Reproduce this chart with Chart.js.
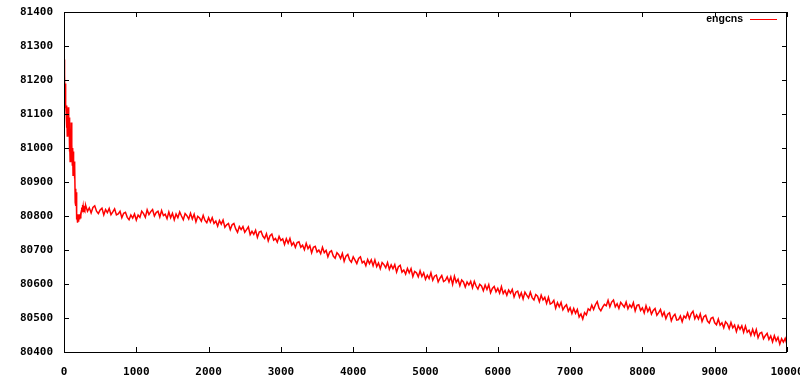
<!DOCTYPE html>
<html>
<head>
<meta charset="utf-8">
<script src="https://cdn.jsdelivr.net/npm/chart.js@4.4.1/dist/chart.umd.min.js"></script>
<style>
  html, body { margin: 0; padding: 0; background: #fff; overflow: hidden; }
  canvas { display: block; }
</style>
</head>
<body>
<canvas id="chart" width="810" height="375"></canvas>
<script>
// sample steps: early part every 5, rest every 25
const earlyStep = 5;
const mainStart = 300;
const mainStep = 25;

const earlyValues = [
  81260, 81140, 81215, 81120, 81190, 81130, 81105, 81060, 81125, 81035,
  81110, 81050, 81120, 81040, 81090, 80990, 81030, 80960, 81040, 80970,
  81075, 80980, 81010, 80950, 81000, 80920, 80990, 80930, 80960, 80910,
  80950, 80840, 80880, 80830, 80870, 80790, 80800, 80780, 80805, 80785,
  80800, 80788, 80805, 80790, 80800, 80795, 80810, 80800, 80815, 80825,
  80818, 80832, 80815, 80828, 80812, 80830, 80815, 80827, 80813, 80829
];

const mainValues = [
  80831, 80814, 80824, 80809, 80825, 80830, 80814, 80807, 80818, 80823,
  80803, 80819, 80810, 80822, 80804, 80812, 80821, 80803, 80806, 80814,
  80795, 80808, 80811, 80796, 80789, 80803, 80794, 80806, 80788, 80803,
  80796, 80814, 80807, 80796, 80818, 80804, 80813, 80819, 80800, 80810,
  80814, 80797, 80816, 80801, 80805, 80792, 80812, 80795, 80808, 80789,
  80806, 80795, 80812, 80800, 80789, 80807, 80801, 80791, 80808, 80791,
  80805, 80783, 80799, 80794, 80785, 80802, 80787, 80780, 80795, 80782,
  80795, 80778, 80785, 80770, 80787, 80776, 80788, 80767, 80774, 80778,
  80760, 80774, 80778, 80762, 80752, 80769, 80760, 80769, 80752, 80760,
  80768, 80745, 80755, 80746, 80758, 80737, 80753, 80755, 80741, 80734,
  80748, 80727, 80742, 80747, 80729, 80734, 80723, 80740, 80728, 80733,
  80716, 80733, 80720, 80734, 80714, 80722, 80708, 80722, 80724, 80708,
  80714, 80701, 80720, 80704, 80713, 80692, 80708, 80711, 80694, 80700,
  80689, 80708, 80692, 80699, 80680, 80694, 80698, 80682, 80676, 80692,
  80686, 80675, 80690, 80667, 80682, 80687, 80671, 80664, 80680, 80670,
  80660, 80675, 80680, 80662, 80667, 80654, 80672, 80660, 80671, 80654,
  80671, 80651, 80662, 80645, 80663, 80657, 80648, 80663, 80643, 80656,
  80645, 80657, 80635, 80651, 80655, 80635, 80641, 80629, 80646, 80633,
  80645, 80622, 80637, 80633, 80621, 80639, 80622, 80633, 80614, 80626,
  80616, 80633, 80611, 80623, 80626, 80606, 80617, 80625, 80607, 80611,
  80621, 80606, 80621, 80599, 80623, 80605, 80614, 80595, 80612, 80606,
  80591, 80606, 80597, 80608, 80589, 80608, 80594, 80585, 80599, 80594,
  80580, 80597, 80584, 80598, 80574, 80587, 80593, 80577, 80587, 80573,
  80592, 80572, 80581, 80567, 80582, 80573, 80584, 80562, 80576, 80579,
  80561, 80574, 80556, 80576, 80567, 80559, 80576, 80560, 80553, 80569,
  80564, 80548, 80567, 80553, 80561, 80543, 80561, 80541, 80544, 80552,
  80529, 80545, 80533, 80546, 80524, 80533, 80539, 80520, 80530, 80513,
  80528, 80514, 80525, 80503, 80512, 80497, 80516, 80509, 80527, 80522,
  80538, 80525, 80539, 80548, 80529, 80521, 80532, 80540, 80536, 80552,
  80533, 80547, 80553, 80533, 80542, 80528, 80546, 80539, 80532, 80547,
  80527, 80539, 80531, 80545, 80521, 80537, 80539, 80522, 80530, 80515,
  80536, 80519, 80530, 80511, 80522, 80528, 80508, 80516, 80525, 80506,
  80517, 80498, 80511, 80515, 80492, 80505, 80511, 80494, 80495, 80506,
  80489, 80506, 80500, 80515, 80498, 80513, 80520, 80498, 80509, 80497,
  80512, 80490, 80504, 80508, 80491, 80485, 80499, 80502, 80486, 80480,
  80497, 80479, 80486, 80471, 80489, 80483, 80469, 80487, 80471, 80479,
  80460, 80478, 80467, 80477, 80458, 80476, 80458, 80464, 80449, 80467,
  80450, 80466, 80442, 80455, 80458, 80439, 80448, 80455, 80437, 80447,
  80430, 80448, 80433, 80443, 80423, 80439, 80429, 80440, 80422
];

const seriesLabel = 'engcns';
const xMin = 0, xMax = 10000, xStep = 1000;
const yMin = 80400, yMax = 81400, yStep = 100;

const points = [];
earlyValues.forEach((v, i) => points.push({ x: i * earlyStep, y: v }));
mainValues.forEach((v, i) => points.push({ x: mainStart + i * mainStep, y: v }));

const tickFont = { family: 'DejaVu Sans Mono', size: 11, weight: 'bold' };

// gnuplot style frame, inward ticks and key
const frame = {
  id: 'frame',
  afterDraw(chart) {
    const { ctx, chartArea: a, scales: { x, y } } = chart;
    ctx.save();
    ctx.strokeStyle = '#000';
    ctx.lineWidth = 1;
    ctx.strokeRect(a.left + 0.5, a.top + 0.5, a.right - a.left - 1, a.bottom - a.top);
    ctx.beginPath();
    x.ticks.forEach(t => {
      const px = Math.round(x.getPixelForValue(t.value)) + 0.5;
      ctx.moveTo(px, a.bottom); ctx.lineTo(px, a.bottom - 5);
      ctx.moveTo(px, a.top); ctx.lineTo(px, a.top + 5);
    });
    y.ticks.forEach(t => {
      const py = Math.round(y.getPixelForValue(t.value)) + 0.5;
      ctx.moveTo(a.left, py); ctx.lineTo(a.left + 5, py);
      ctx.moveTo(a.right, py); ctx.lineTo(a.right - 5, py);
    });
    ctx.stroke();

    // key
    ctx.font = 'bold 10.5px "Liberation Sans"';
    ctx.fillStyle = '#000';
    ctx.textAlign = 'right';
    ctx.textBaseline = 'middle';
    ctx.fillText(chart.data.datasets[0].label, a.right - 44, a.top + 7);
    ctx.strokeStyle = chart.data.datasets[0].borderColor;
    ctx.beginPath();
    ctx.moveTo(a.right - 37, a.top + 7.5);
    ctx.lineTo(a.right - 10, a.top + 7.5);
    ctx.stroke();
    ctx.restore();
  }
};

const ctx = document.getElementById('chart').getContext('2d');
new Chart(ctx, {
  type: 'line',
  data: {
    datasets: [{
      label: seriesLabel,
      data: points,
      borderColor: '#ff0000',
      borderWidth: 1.5,
      pointRadius: 0,
      tension: 0,
      fill: false
    }]
  },
  options: {
    responsive: false,
    animation: false,
    layout: { padding: { top: 12, right: 23, left: 0, bottom: 0 } },
    plugins: {
      legend: { display: false },
      tooltip: { enabled: false }
    },
    scales: {
      x: {
        type: 'linear',
        min: xMin,
        max: xMax,
        ticks: { stepSize: xStep, font: tickFont, color: '#000', padding: 6, maxRotation: 0, callback: v => String(v) },
        grid: { display: false },
        border: { display: false },
        afterFit(scale) { scale.height = 23; }
      },
      y: {
        min: yMin,
        max: yMax,
        ticks: { stepSize: yStep, font: tickFont, color: '#000', padding: 3, callback: v => String(v) },
        grid: { display: false },
        border: { display: false },
        afterFit(scale) { scale.width = 64; }
      }
    }
  },
  plugins: [frame]
});
</script>
</body>
</html>
